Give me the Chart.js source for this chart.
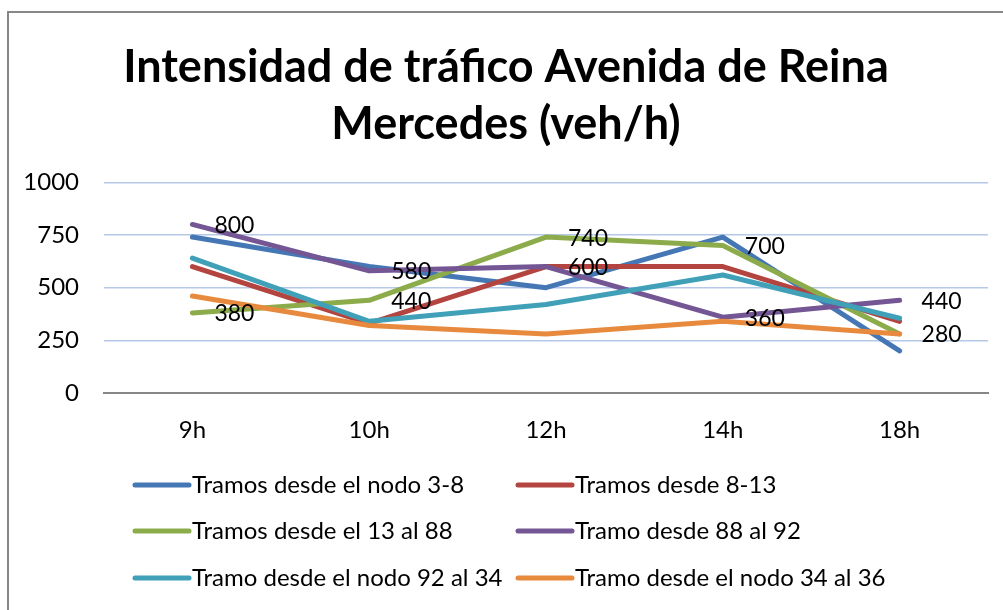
<!DOCTYPE html>
<html>
<head>
<meta charset="utf-8">
<script src="https://cdn.jsdelivr.net/npm/chart.js@4.4.1/dist/chart.umd.min.js"></script>
<style>
  html, body { margin: 0; padding: 0; background: #ffffff; }
  #wrap { position: relative; width: 1003px; height: 610px; }
</style>
</head>
<body>
<div id="wrap"><canvas id="c" width="1003" height="610"></canvas></div>
<script>
const categories = ['9h', '10h', '12h', '14h', '18h'];
const seriesNames = [
  'Tramos desde el nodo 3-8',
  'Tramos desde 8-13',
  'Tramos desde el 13 al 88',
  'Tramo desde 88 al 92',
  'Tramo desde el nodo 92 al 34',
  'Tramo desde el nodo 34 al 36'
];
const tramo3a8 = [740, 600, 500, 740, 200];
const tramo8a13 = [600, 330, 600, 600, 340];
const tramo13a88 = [380, 440, 740, 700, 280];
const tramo88a92 = [800, 580, 600, 360, 440];
const tramo92a34 = [640, 340, 420, 560, 355];
const tramo34a36 = [460, 320, 280, 340, 280];
const seriesValues = [tramo3a8, tramo8a13, tramo13a88, tramo88a92, tramo92a34, tramo34a36];
const seriesColors = ['#4677b5', '#b4443f', '#8cab4b', '#735693', '#40a0b8', '#e88a3e'];
const labelledSeries = [2, 3];
const yTicks = [0, 250, 500, 750, 1000];
const titleLines = ['Intensidad de tráfico Avenida de Reina', 'Mercedes (veh/h)'];

const FONT = 'Lato, "Open Sans", sans-serif';

const datasets = seriesValues.map((vals, i) => ({
  label: seriesNames[i],
  data: vals,
  borderColor: seriesColors[i],
  backgroundColor: seriesColors[i],
  borderWidth: 5,
  borderCapStyle: 'round',
  borderJoinStyle: 'round',
  pointRadius: 0,
  pointHoverRadius: 0,
  tension: 0,
  fill: false,
  order: seriesValues.length - i
}));

const framePlugin = {
  id: 'frame',
  beforeDraw(chart) {
    const ctx = chart.ctx;
    ctx.save();
    ctx.fillStyle = '#878787';
    ctx.fillRect(7, 11, 2, 610);
    ctx.fillRect(7, 11, 1003, 2);
    ctx.restore();
  }
};

const valueLabelPlugin = {
  id: 'valueLabels',
  afterDatasetsDraw(chart) {
    const ctx = chart.ctx;
    ctx.save();
    ctx.font = '23px ' + FONT;
    ctx.fillStyle = '#000000';
    ctx.textAlign = 'left';
    ctx.textBaseline = 'middle';
    labelledSeries.forEach(di => {
      const meta = chart.getDatasetMeta(di);
      meta.data.forEach((pt, j) => {
        ctx.fillText(String(chart.data.datasets[di].data[j]), pt.x + 22, pt.y + 1);
      });
    });
    ctx.restore();
  }
};

const legendPlugin = {
  id: 'customLegend',
  afterDraw(chart) {
    const ctx = chart.ctx;
    const colX = [135, 518];
    const rowY = [485, 531, 578];
    ctx.save();
    ctx.font = '24px ' + FONT;
    ctx.textAlign = 'left';
    ctx.textBaseline = 'middle';
    chart.data.datasets.forEach((ds, i) => {
      const x = colX[i % 2];
      const y = rowY[Math.floor(i / 2)];
      ctx.strokeStyle = ds.borderColor;
      ctx.lineWidth = 5;
      ctx.lineCap = 'round';
      ctx.beginPath();
      ctx.moveTo(x, y);
      ctx.lineTo(x + 54, y);
      ctx.stroke();
      ctx.fillStyle = '#000000';
      ctx.fillText(ds.label, x + 57, y);
    });
    ctx.restore();
  }
};

new Chart(document.getElementById('c'), {
  type: 'line',
  data: { labels: categories, datasets },
  plugins: [framePlugin, valueLabelPlugin, legendPlugin],
  options: {
    responsive: false,
    animation: false,
    devicePixelRatio: 1,
    layout: { padding: { top: 0, left: 24, right: 15, bottom: 167 } },
    plugins: {
      legend: { display: false },
      tooltip: { enabled: false },
      title: {
        display: true,
        text: titleLines,
        color: '#000000',
        font: { family: FONT, size: 45, weight: 'bold', lineHeight: 1.27 },
        padding: { top: 39, bottom: 29 }
      }
    },
    scales: {
      x: {
        offset: true,
        grid: { display: false, drawTicks: false },
        border: { display: true, color: '#868686', width: 2 },
        ticks: { color: '#000000', font: { family: FONT, size: 24 }, padding: 23 },
        afterFit(s) { s.height = 50; }
      },
      y: {
        min: 0,
        max: 1000,
        afterBuildTicks(s) { s.ticks = yTicks.map(v => ({ value: v })); },
        grid: {
          drawTicks: false,
          lineWidth: 1.5,
          color: ctx => (ctx.tick && ctx.tick.value === 0) ? 'rgba(0,0,0,0)' : '#b5c8e8'
        },
        border: { display: false },
        ticks: {
          color: '#000000',
          font: { family: FONT, size: 24 },
          padding: 25,
          callback: v => String(v)
        },
        afterFit(s) { s.width = 80; }
      }
    }
  }
});
</script>
</body>
</html>
